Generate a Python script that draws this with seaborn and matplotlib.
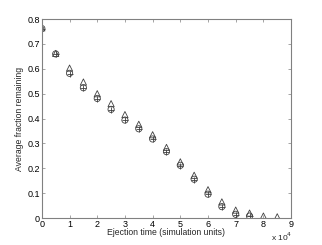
import numpy as np
import pandas as pd
import matplotlib
matplotlib.use("Agg")
import matplotlib.pyplot as plt
import seaborn as sns

# ejection times (x 1e4 simulation units)
t_tri = [0, 0.5, 1.0, 1.5, 2.0, 2.5, 3.0, 3.5, 4.0, 4.5, 5.0, 5.5, 6.0, 6.5, 7.0, 7.5, 8.0, 8.5]
frac_tri = [0.765, 0.662, 0.603, 0.547, 0.500, 0.460, 0.416, 0.377, 0.335, 0.284, 0.226, 0.172, 0.114, 0.065, 0.032, 0.020, 0.008, 0.005]

t_circ = [0, 0.5, 1.0, 1.5, 2.0, 2.5, 3.0, 3.5, 4.0, 4.5, 5.0, 5.5, 6.0, 6.5, 7.0, 7.5]
frac_circ = [0.762, 0.660, 0.582, 0.524, 0.481, 0.437, 0.394, 0.359, 0.318, 0.267, 0.212, 0.156, 0.096, 0.046, 0.015, 0.008]

t_plus = [0, 0.5, 1.0, 1.5, 2.0, 2.5, 3.0, 3.5, 4.0, 4.5, 5.0, 5.5, 6.0, 6.5, 7.0, 7.5]
frac_plus = [0.762, 0.660, 0.580, 0.522, 0.480, 0.436, 0.393, 0.358, 0.318, 0.267, 0.211, 0.155, 0.095, 0.045, 0.014, 0.007]

sns.set_style("white")
plt.rcParams["font.family"] = ["Liberation Sans", "DejaVu Sans"]

fig = plt.figure(figsize=(3.22, 2.45), dpi=100)
ax = fig.add_axes([0.130, 0.110, 0.774, 0.812])

df_tri = pd.DataFrame({"t": np.array(t_tri) * 1e4, "f": frac_tri})
df_circ = pd.DataFrame({"t": np.array(t_circ) * 1e4, "f": frac_circ})
df_plus = pd.DataFrame({"t": np.array(t_plus) * 1e4, "f": frac_plus})

mc = "#404040"
sns.scatterplot(data=df_tri, x="t", y="f", marker="^", s=20, facecolors="none",
                edgecolor=mc, linewidth=0.6, ax=ax)
sns.scatterplot(data=df_circ, x="t", y="f", marker="o", s=20, facecolors="none",
                edgecolor=mc, linewidth=0.6, ax=ax)
sns.scatterplot(data=df_plus, x="t", y="f", marker="+", s=22, color=mc,
                linewidth=0.6, ax=ax)

ax.set_xlim(0, 9e4)
ax.set_ylim(0, 0.8)
ax.set_xticks(np.arange(0, 9.01e4, 1e4))
ax.set_xticklabels([str(i) for i in range(10)])
ax.set_yticks(np.arange(0, 0.81, 0.1))
ax.set_yticklabels(["0", "0.1", "0.2", "0.3", "0.4", "0.5", "0.6", "0.7", "0.8"])
ax.tick_params(direction="in", length=2, width=0.5, labelsize=6.5, pad=1.5,
               top=True, right=True, bottom=True, left=True, colors="#808080",
               labelcolor="black")
for s in ax.spines.values():
    s.set_color("#808080")
    s.set_linewidth(0.8)

ax.set_xlabel("Ejection time (simulation units)", fontsize=6.2, labelpad=-1)
ax.set_ylabel("Average fraction remaining", fontsize=6.2, labelpad=2)
ax.text(1.005, -0.095, "x 10$^4$", transform=ax.transAxes, fontsize=6, ha="right", va="center")

fig.savefig("out.png", dpi=100)
